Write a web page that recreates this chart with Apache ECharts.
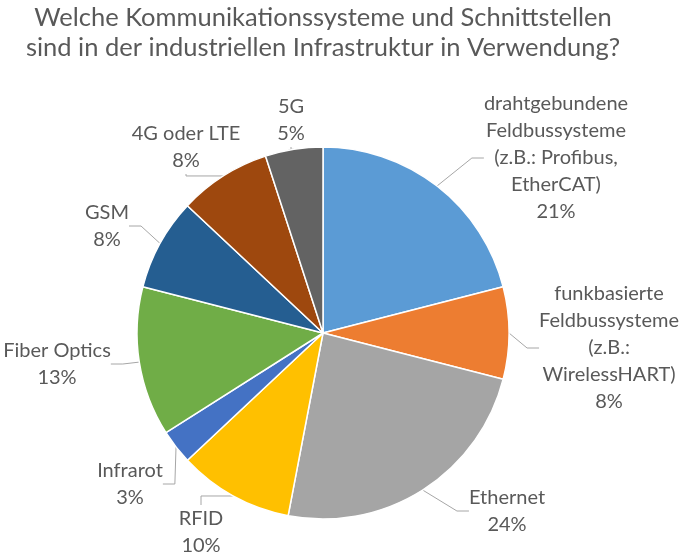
<!DOCTYPE html>
<html><head><meta charset="utf-8">
<script src="https://cdn.jsdelivr.net/npm/echarts@6/dist/echarts.min.js"></script>
<style>html,body{margin:0;padding:0;background:#fff}#c{width:685px;height:556px}</style>
</head><body><div id="c"></div>
<script>
const titleText = 'Welche Kommunikationssysteme und Schnittstellen\nsind in der industriellen Infrastruktur in Verwendung?';
const categories = [
  'drahtgebundene\nFeldbussysteme\n(z.B.: Profibus,\nEtherCAT)',
  'funkbasierte\nFeldbussysteme\n(z.B.:\nWirelessHART)',
  'Ethernet', 'RFID', 'Infrarot', 'Fiber Optics', 'GSM', '4G oder LTE', '5G'
];
const values = [21, 8, 24, 10, 3, 13, 8, 8, 5];
const colors = ['#5B9BD5','#ED7D31','#A5A5A5','#FFC000','#4472C4','#70AD47','#255E91','#9E480E','#636363'];
// label centre positions (layout only)
const labelPos = [[556,158],[609,348],[507,511],[201,532],[130,484],[57,364],[107,226],[186,147],[291,120]];

const chart = echarts.init(document.getElementById('c'), null, {renderer:'canvas'});
const FONT = 'Lato, "Open Sans", sans-serif';
chart.setOption({
  animation: false,
  title: {
    text: titleText, left: 318, textAlign: 'center', top: -2,
    textStyle: {fontFamily: FONT, fontSize: 25.5, fontWeight: 'normal', color: '#595959', lineHeight: 30}
  },
  series: [{
    type: 'pie',
    center: [323, 333],
    radius: 186,
    startAngle: 90,
    clockwise: true,
    data: categories.map((n, i) => ({name: n, value: values[i], itemStyle: {color: colors[i]}})),
    itemStyle: {borderColor: '#fff', borderWidth: 1.5},
    label: {
      show: true, position: 'outside', overflow: 'none',
      formatter: p => p.name + '\n' + p.value + '%',
      fontFamily: FONT, fontSize: 20, color: '#595959', lineHeight: 27, align: 'center'
    },
    labelLine: {show: true, length: 12, length2: 12, lineStyle: {color: '#A6A6A6', width: 1}},
    labelLayout: p => ({x: labelPos[p.dataIndex][0], y: labelPos[p.dataIndex][1], align: 'center', verticalAlign: 'middle'})
  }]
});
</script></body></html>
